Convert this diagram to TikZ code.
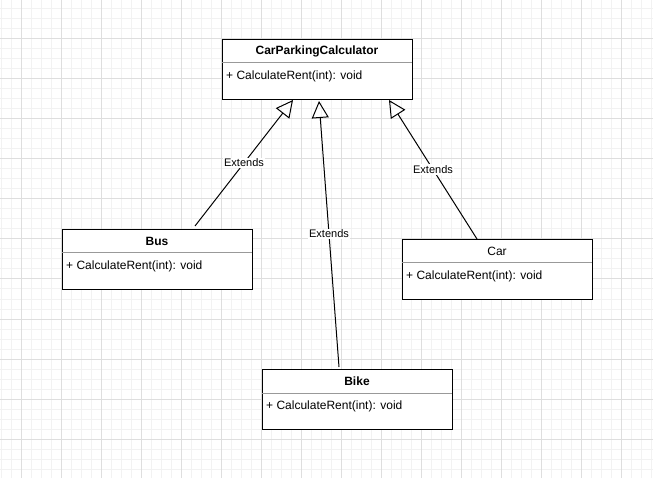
\documentclass[tikz,border=0pt]{standalone}
\usepackage{fontspec}
\setmainfont{Liberation Sans}
\usetikzlibrary{arrows.meta}
\tikzset{
  gridminor/.style={draw=black!5, line width=1pt},
  gridmajor/.style={draw=black!13, line width=1pt},
  classbox/.style={draw=black, line width=1pt, fill=white, minimum width=190pt, minimum height=60pt, inner sep=0pt, anchor=north west},
  ctitle/.style={font=\bfseries\fontsize{12}{14}\selectfont, inner sep=0pt, anchor=center},
  ctitleplain/.style={font=\fontsize{12}{14}\selectfont, inner sep=0pt, anchor=center},
  cattr/.style={font=\fontsize{12}{14}\selectfont, inner sep=0pt, anchor=west},
  divider/.style={draw=black!40, line width=1pt},
  ext/.style={-{Triangle[open, length=17pt, width=17pt]}, line width=1pt},
  lbl/.style={font=\fontsize{11}{13}\selectfont, fill=white, inner sep=1pt}
}
\newcommand{\umlclass}[5]{%
  \node[classbox] (#1) at (#2,#3) {};
  \node[#5] (#1-t) at (#2+95,#3+12) {#4};
  \draw[divider] (#2,#3+24) -- (#2+190,#3+24);
  \node[cattr] (#1-a) at (#2+4,#3+37) {+ CalculateRent(int): void};
}
\begin{document}
\begin{tikzpicture}[x=1pt,y=-1pt]
\useasboundingbox (0,0) rectangle (653,478);
\fill[white] (0,0) rectangle (653,478);
\foreach \gx in {1,11,...,651} \draw[gridminor] (\gx,0) -- (\gx,478);
\foreach \gy in {9,19,...,469} \draw[gridminor] (0,\gy) -- (653,\gy);
\foreach \gx in {21,61,...,621} \draw[gridmajor] (\gx,0) -- (\gx,478);
\foreach \gy in {39,79,...,439} \draw[gridmajor] (0,\gy) -- (653,\gy);

\umlclass{cpc}{222}{39}{CarParkingCalculator}{ctitle}
\umlclass{bus}{62}{229}{Bus}{ctitle}
\umlclass{car}{402}{239}{Car}{ctitleplain}
\umlclass{bike}{262}{369}{Bike}{ctitle}

\draw[ext] ([xshift=133pt,yshift=3pt]bus.north west) -- node[lbl,pos=0.5] {Extends} ([xshift=71pt]cpc.south west);
\draw[ext] ([xshift=77pt,yshift=2pt]bike.north west) -- node[lbl,pos=0.5] {Extends} ([xshift=97pt,yshift=-1pt]cpc.south west);
\draw[ext] ([xshift=75pt]car.north west) -- node[lbl,pos=0.5] {Extends} ([xshift=167pt]cpc.south west);
\end{tikzpicture}
\end{document}
